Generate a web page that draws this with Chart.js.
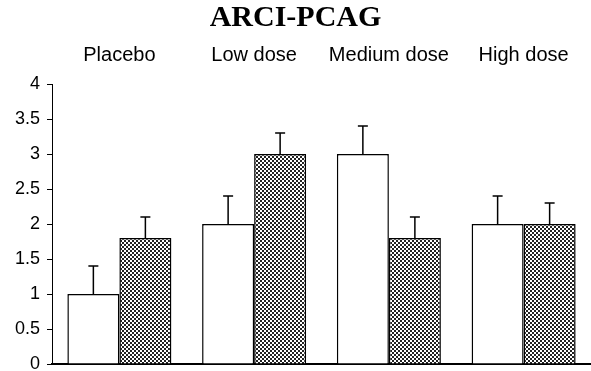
<!DOCTYPE html>
<html>
<head>
<meta charset="utf-8">
<script src="https://cdn.jsdelivr.net/npm/chart.js@4/dist/chart.umd.min.js"></script>
<style>
  html,body{margin:0;padding:0;background:#fff;}
  #wrap{width:591px;height:371px;}
</style>
</head>
<body>
<div id="wrap"><canvas id="c" width="591" height="371"></canvas></div>
<script>
/* Data */
const categories = ['Placebo', 'Low dose', 'Medium dose', 'High dose'];
const whiteValues = [1, 2, 3, 2];
const whiteErrors = [0.4, 0.4, 0.4, 0.4];
const hatchValues = [1.8, 3, 1.8, 2];
const hatchErrors = [0.3, 0.3, 0.3, 0.3];
const yTicks = [0, 0.5, 1, 1.5, 2, 2.5, 3, 3.5, 4];

/* Checker pattern for the shaded bars */
function makeHatch(){
  const t = document.createElement('canvas');
  t.width = 4; t.height = 4;
  const g = t.getContext('2d');
  g.fillStyle = '#fff'; g.fillRect(0,0,4,4);
  g.fillStyle = '#222';
  g.fillRect(0,0,2,2); g.fillRect(2,2,2,2);
  return g.createPattern(t, 'repeat');
}

/* Error bars (upper side only) */
const errorBars = {
  id: 'errorBars',
  afterDatasetsDraw(chart){
    const ctx = chart.ctx, y = chart.scales.y;
    chart.data.datasets.forEach((ds, di) => {
      const meta = chart.getDatasetMeta(di);
      meta.data.forEach((bar, i) => {
        const top = y.getPixelForValue(ds.data[i] + ds.errors[i]);
        ctx.save();
        ctx.strokeStyle = '#000';
        ctx.lineWidth = 1.5;
        ctx.beginPath();
        ctx.moveTo(bar.x, bar.y);
        ctx.lineTo(bar.x, top);
        ctx.moveTo(bar.x - 5, top);
        ctx.lineTo(bar.x + 5, top);
        ctx.stroke();
        ctx.restore();
      });
    });
  }
};

Chart.defaults.color = '#000';
Chart.defaults.font.family = "'Liberation Sans', Arial, sans-serif";

new Chart(document.getElementById('c'), {
  type: 'bar',
  data: {
    labels: categories,
    datasets: [
      {data: whiteValues, errors: whiteErrors, backgroundColor: '#fff', borderColor: '#000', borderWidth: 1.5},
      {data: hatchValues, errors: hatchErrors, backgroundColor: makeHatch(), borderColor: '#000', borderWidth: 1.5}
    ]
  },
  options: {
    responsive: false,
    animation: false,
    categoryPercentage: 0.772,
    barPercentage: 1,
    layout: {padding: {top: 0, left: 0, right: 0, bottom: 7}},
    plugins: {
      legend: {display: false},
      tooltip: {enabled: false},
      title: {
        display: true,
        text: 'ARCI-PCAG',
        color: '#000',
        font: {family: "'Liberation Serif', 'Times New Roman', serif", size: 30, weight: 'bold'},
        padding: {top: 0, bottom: 7}
      }
    },
    scales: {
      x: {
        grid: {display: false},
        ticks: {display: false},
        border: {display: true, color: '#000', width: 2},
        afterFit: s => { s.height = 0; }
      },
      x2: {
        type: 'category',
        labels: categories,
        position: 'top',
        offset: true,
        grid: {display: false, drawTicks: false},
        border: {display: false},
        ticks: {font: {size: 20}, padding: 17, color: '#000'},
        afterFit: s => { s.height = 41; }
      },
      y: {
        min: 0,
        max: 4,
        afterBuildTicks: s => { s.ticks = yTicks.map(v => ({value: v})); },
        grid: {display: true, drawOnChartArea: false, drawTicks: true, tickLength: 5, color: '#000'},
        border: {display: true, color: '#000', width: 1},
        ticks: {font: {size: 18}, padding: 7, color: '#000', callback: v => String(v)},
        afterFit: s => { s.width = 52; s.paddingTop = 0; s.paddingBottom = 0; }
      }
    }
  },
  plugins: [errorBars]
});
</script>
</body>
</html>
